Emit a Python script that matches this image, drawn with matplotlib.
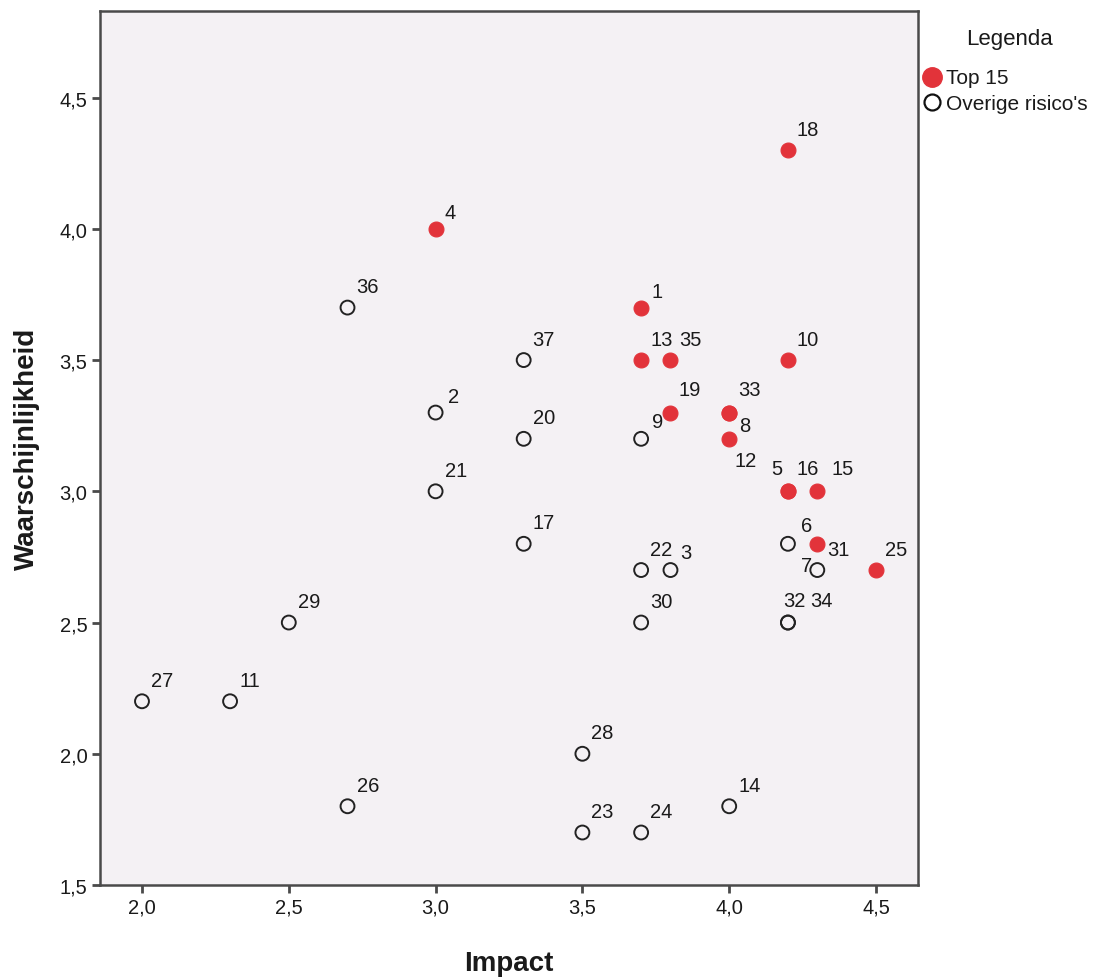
import matplotlib
matplotlib.use("Agg")
import matplotlib.pyplot as plt
from matplotlib.ticker import FuncFormatter

plt.rcParams['font.family'] = ['Liberation Sans', 'DejaVu Sans']

# ---- data ----
labels = [4, 18, 1, 13, 35, 10, 19, 33, 8, 12, 5, 16, 15, 31, 25,
          36, 37, 2, 20, 9, 21, 17, 22, 3, 6, 7, 30, 32, 34, 29, 27, 11, 28, 26, 14, 23, 24]
impact = [3.0, 4.2, 3.7, 3.7, 3.8, 4.2, 3.8, 4.0, 4.0, 4.0, 4.2, 4.2, 4.3, 4.3, 4.5,
          2.7, 3.3, 3.0, 3.3, 3.7, 3.0, 3.3, 3.7, 3.8, 4.2, 4.3, 3.7, 4.2, 4.2, 2.5, 2.0, 2.3, 3.5, 2.7, 4.0, 3.5, 3.7]
kans = [4.0, 4.3, 3.7, 3.5, 3.5, 3.5, 3.3, 3.3, 3.3, 3.2, 3.0, 3.0, 3.0, 2.8, 2.7,
        3.7, 3.5, 3.3, 3.2, 3.2, 3.0, 2.8, 2.7, 2.7, 2.8, 2.7, 2.5, 2.5, 2.5, 2.5, 2.2, 2.2, 2.0, 1.8, 1.8, 1.7, 1.7]
top15 = [True] * 15 + [False] * 22
xticks = [2.0, 2.5, 3.0, 3.5, 4.0, 4.5]
yticks = [1.5, 2.0, 2.5, 3.0, 3.5, 4.0, 4.5]
legend_labels = ['Top 15', "Overige risico's"]

# ---- label offsets (pixels) ----
default_off = (9, 21, 'left')
offsets = {
    4: (9, 16, 'left'), 1: (10, 16, 'left'), 2: (12, 16, 'left'),
    9: (11, 17, 'left'), 8: (10, -13, 'left'), 12: (5, -22, 'left'),
    5: (-17, 23, 'left'), 16: (9, 23, 'left'), 15: (14, 23, 'left'),
    6: (13, 18, 'left'), 31: (10, -6, 'left'), 7: (-5, 5, 'right'),
    32: (-5, 22, 'left'), 34: (22, 22, 'left'), 3: (10, 18, 'left'),
    33: (9, 23, 'left'), 19: (8, 23, 'left'),
}

red = '#e2333a'
bg = '#f4f1f4'
spine_col = '#4a4a4a'
txt = '#1a1a1a'

W, H = 1101, 979
fig = plt.figure(figsize=(W / 100, H / 100), dpi=100)
ax = fig.add_axes([100 / W, 93 / H, 818 / W, 874 / H])
ax.set_facecolor(bg)

xr = [x for x, t in zip(impact, top15) if t]
yr = [y for y, t in zip(kans, top15) if t]
xo = [x for x, t in zip(impact, top15) if not t]
yo = [y for y, t in zip(kans, top15) if not t]

ax.scatter(xo, yo, s=100, facecolors='none', edgecolors='#222222', linewidths=1.4, zorder=3)
ax.scatter(xr, yr, s=115, facecolors=red, edgecolors=red, linewidths=0.8, zorder=3)

for lab, x, y in zip(labels, impact, kans):
    dx, dy, ha = offsets.get(lab, default_off)
    ax.annotate(str(lab), (x, y), xytext=(dx, dy), textcoords='offset pixels',
                ha=ha, va='center', fontsize=14.5, color=txt, zorder=4)

ax.set_xlim(1.857, 4.643)
ax.set_ylim(1.5, 4.83)
ax.set_xticks(xticks)
ax.set_yticks(yticks)
fmt = FuncFormatter(lambda v, p: f"{v:.1f}".replace('.', ','))
ax.xaxis.set_major_formatter(fmt)
ax.yaxis.set_major_formatter(fmt)
ax.tick_params(axis='both', direction='out', length=6, width=2, color=spine_col,
               labelsize=14.5, labelcolor=txt, pad=3)
for s in ax.spines.values():
    s.set_color(spine_col)
    s.set_linewidth(1.8)

ax.set_xlabel('Impact', fontsize=20, fontweight='bold', color=txt, labelpad=24)
ax.set_ylabel('Waarschijnlijkheid', fontsize=20, fontweight='bold', color=txt, labelpad=14)

# ---- legend (outside the plot, right) ----
lax = fig.add_axes([0, 0, 1, 1], facecolor='none')
lax.set_xlim(0, W)
lax.set_ylim(H, 0)
lax.axis('off')
lax.text(1010, 40, 'Legenda', ha='center', va='center', fontsize=16, color=txt)
lax.plot([932], [78], marker='o', markersize=14, markerfacecolor=red, markeredgecolor=red, linestyle='none')
lax.plot([932], [103], marker='o', markersize=11.5, markerfacecolor='none',
         markeredgecolor='#111111', markeredgewidth=1.6, linestyle='none')
lax.text(946, 79, legend_labels[0], ha='left', va='center', fontsize=15, color=txt)
lax.text(946, 104, legend_labels[1], ha='left', va='center', fontsize=15, color=txt)

fig.savefig('out.png', dpi=100, facecolor='white')
